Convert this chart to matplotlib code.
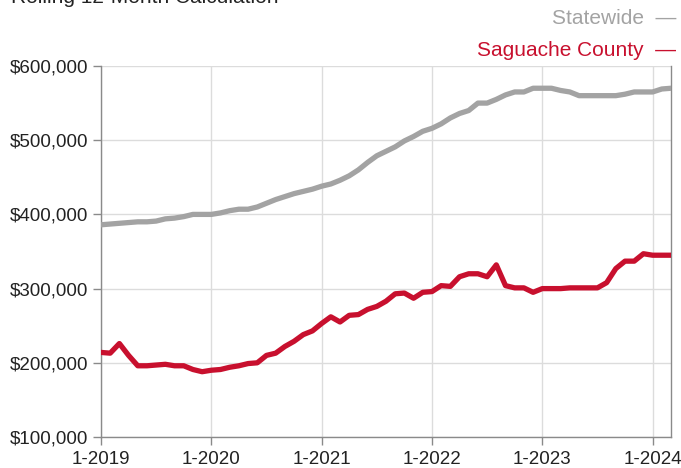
import matplotlib
matplotlib.use("Agg")
import matplotlib.pyplot as plt
from matplotlib.ticker import FuncFormatter

# monthly values, Jan 2019 .. Mar 2024 (in $)
statewide = [386, 387, 388, 389, 390, 390, 391, 394, 395, 397, 400, 400,
             400, 402, 405, 407, 407, 410, 415, 420, 424, 428, 431, 434,
             438, 441, 446, 452, 460, 470, 479, 485, 491, 499, 505, 512,
             516, 522, 530, 536, 540, 550, 550, 555, 561, 565, 565, 570,
             570, 570, 567, 565, 560, 560, 560, 560, 560, 562, 565, 565,
             565, 569, 570]
saguache = [214, 213, 226, 210, 196, 196, 197, 198, 196, 196, 191, 188,
            190, 191, 194, 196, 199, 200, 210, 213, 222, 229, 238, 243,
            253, 262, 255, 264, 265, 272, 276, 283, 293, 294, 287, 295,
            296, 304, 303, 316, 320, 320, 316, 332, 304, 301, 301, 295,
            300, 300, 300, 301, 301, 301, 301, 308, 327, 337, 337, 347,
            345, 345, 345]
statewide = [v * 1000 for v in statewide]
saguache = [v * 1000 for v in saguache]

year_ticks = [0, 12, 24, 36, 48, 60]
year_labels = ["1-2019", "1-2020", "1-2021", "1-2022", "1-2023", "1-2024"]
y_ticks = [100000, 200000, 300000, 400000, 500000, 600000]

GRAY = "#a3a3a3"
RED = "#c8102e"

plt.rcParams["font.family"] = ["Liberation Sans", "DejaVu Sans"]

fig = plt.figure(figsize=(6.81, 4.68), dpi=100)
ax = fig.add_axes([0.1483, 0.0662, 0.8370, 0.7928])

months = list(range(len(statewide)))
ax.plot(months, statewide, color=GRAY, lw=3.8, solid_joinstyle="round", zorder=3)
ax.plot(months, saguache, color=RED, lw=3.8, solid_joinstyle="round", zorder=4)

ax.set_xlim(0, 62)
ax.set_ylim(100000, 600000)
ax.set_xticks(year_ticks)
ax.set_xticklabels(year_labels)
ax.set_yticks(y_ticks)
ax.yaxis.set_major_formatter(FuncFormatter(lambda v, p: f"${v:,.0f}"))

ax.grid(True, color="#dcdcdc", lw=1)
ax.set_axisbelow(True)
for s in ["left", "bottom", "right"]:
    ax.spines[s].set_color("#8a8a8a")
    ax.spines[s].set_linewidth(1)
ax.spines["top"].set_visible(False)
ax.tick_params(axis="both", labelsize=13.5, colors="#8a8a8a", labelcolor="#222222",
               length=6, width=1)
ax.tick_params(axis="x", pad=4)
ax.tick_params(axis="y", pad=3)

# title (cut off at top in the original)
fig.text(0.016, 1 - 3 / 468, "Rolling 12-Month Calculation", fontsize=15,
         color="#222222", ha="left", va="baseline")

# legend
fig.text(0.993, 1 - 24 / 468, "Statewide  \u2014", fontsize=15, color=GRAY,
         ha="right", va="baseline")
fig.text(0.993, 1 - 56 / 468, "Saguache County  \u2014", fontsize=15, color=RED,
         ha="right", va="baseline")

fig.savefig("out.png", dpi=100)
